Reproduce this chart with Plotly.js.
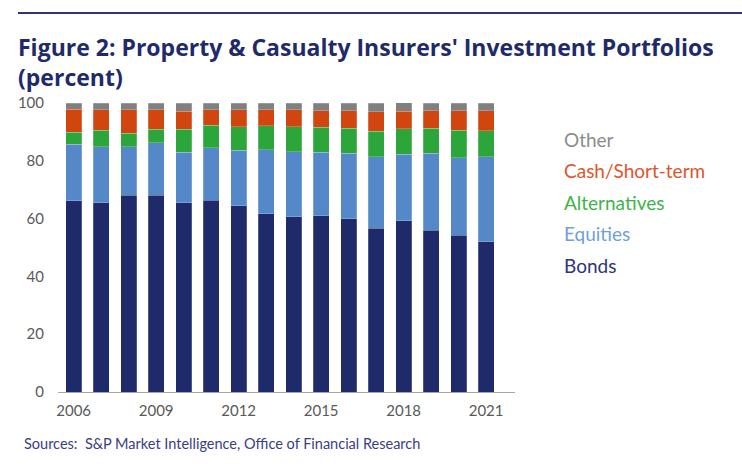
<!DOCTYPE html>
<html>
<head>
<meta charset="utf-8">
<script src="https://cdn.plot.ly/plotly-3.0.1.min.js"></script>
<style>
html,body{margin:0;padding:0;background:#fff;}
#chart{width:742px;height:467px;}
</style>
</head>
<body>
<div id="chart"></div>
<script>
const years = [2006,2007,2008,2009,2010,2011,2012,2013,2014,2015,2016,2017,2018,2019,2020,2021];
const bonds        = [66.2,65.5,68.0,68.0,65.5,66.4,64.4,61.6,60.6,61.0,60.0,56.7,59.2,55.9,54.2,52.0];
const equities     = [19.5,19.3,16.8,18.3,17.4,18.2,19.3,22.3,22.5,21.9,22.6,24.7,23.0,26.7,26.8,29.4];
const alternatives = [4.2,5.7,4.7,4.6,8.0,7.7,8.1,8.2,8.7,8.7,8.7,8.9,8.9,8.6,9.5,9.0];
const cashShort    = [8.0,7.2,8.1,6.8,6.3,5.3,5.9,5.6,5.8,5.7,6.0,6.6,6.1,6.1,6.8,6.9];
const other        = [2.1,2.3,2.4,2.3,2.8,2.4,2.3,2.3,2.4,2.7,2.7,3.1,3.0,2.7,2.7,2.7];
const seriesNames  = ["Bonds","Equities","Alternatives","Cash/Short-term","Other"];
const xTickVals    = [2006,2009,2012,2015,2018,2021];
const yTickVals    = [0,20,40,60,80,100];

const barColors    = ["#1f2a6b","#5588c8","#2ca53a","#d0460e","#808080"];
const legendColors = ["#2e3478","#6f9fdc","#3cb44a","#e0562a","#8c8c8c"];
const seriesValues = [bonds,equities,alternatives,cashShort,other];

const traces = seriesValues.map((vals,i)=>({
  type:"bar", x:years, y:vals, name:seriesNames[i],
  marker:{color:barColors[i], line:{color:"rgba(255,255,255,0.35)", width:0.6}},
  width:0.58, hoverinfo:"x+y+name"
}));

const legendY = [265,233,202,170,139]; // pixel rows for legend text (Bonds..Other)
const annotations = seriesNames.map((n,i)=>({
  text:n, xref:"paper", yref:"paper", xanchor:"left", yanchor:"middle",
  x:(562-58)/457, y:(392-legendY[i])/289, showarrow:false,
  font:{family:"Lato, 'Noto Sans', sans-serif", size:19, color:legendColors[i]}
}));
annotations.push({
  text:"Sources:  S&P Market Intelligence, Office of Financial Research",
  xref:"paper", yref:"paper", xanchor:"left", yanchor:"middle",
  x:(22-58)/457, y:(392-443)/289, showarrow:false,
  font:{family:"Lato, 'Noto Sans', sans-serif", size:14.5, color:"#3a4080"}
});
annotations.push({
  text:"<b>Figure 2: Property &amp; Casualty Insurers' Investment Portfolios<br>(percent)</b>",
  xref:"paper", yref:"paper", xanchor:"left", yanchor:"top", align:"left",
  x:(16-58)/457, y:(392-29)/289, showarrow:false,
  font:{family:"'Open Sans', Lato, sans-serif", size:23, color:"#1f2a6b"}
});

const layout = {
  width:742, height:467,
  margin:{l:58, r:227, t:103, b:75, pad:0},
  paper_bgcolor:"#fff", plot_bgcolor:"#fff",
  barmode:"stack", bargap:0.42, showlegend:false,
  font:{family:"Lato, 'Noto Sans', sans-serif", color:"#595959"},
  xaxis:{range:[2005.43,2022.05], tickvals:xTickVals, ticktext:xTickVals.map(String),
    showgrid:false, zeroline:false, showline:true, linecolor:"#a6a6a6", linewidth:1,
    ticks:"", ticklabelstandoff:5, tickfont:{size:15, color:"#595959"}, fixedrange:true},
  yaxis:{range:[0,100], tickvals:yTickVals, showgrid:false, zeroline:false, showline:false,
    ticks:"", ticklabelstandoff:13, tickfont:{size:15, color:"#595959"}, fixedrange:true},
  annotations:annotations,
  shapes:[{type:"line", xref:"paper", yref:"paper",
    x0:(18-58)/457, x1:(742-58)/457, y0:(392-13)/289, y1:(392-13)/289,
    line:{color:"#2e3478", width:2}}]
};

Plotly.newPlot("chart", traces, layout, {displayModeBar:false, staticPlot:true});
</script>
</body>
</html>
